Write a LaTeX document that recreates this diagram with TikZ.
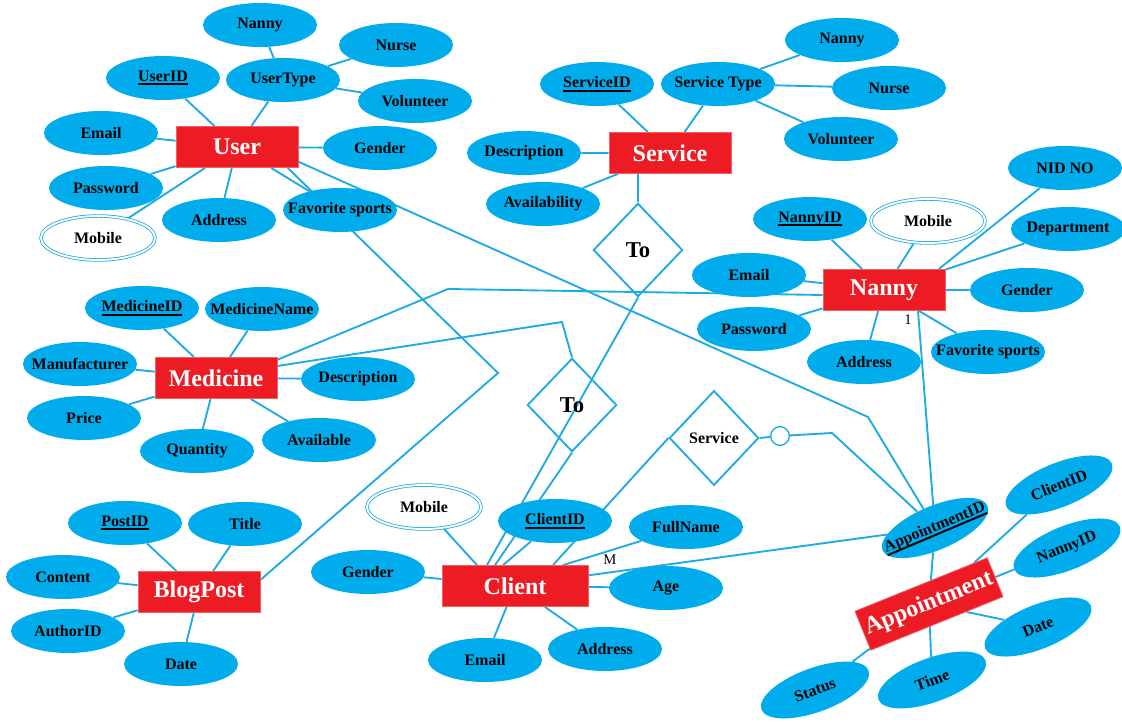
\documentclass[tikz,border=0pt]{standalone}
\usepackage{fontspec}
\setmainfont{Liberation Serif}
\usetikzlibrary{shapes.geometric,backgrounds}
\definecolor{attrblue}{RGB}{0,172,236}
\definecolor{linkblue}{RGB}{30,170,228}
\definecolor{entred}{RGB}{237,28,36}
\newcommand{\pkey}[1]{\setbox0\hbox{#1}\rlap{\rule[-3pt]{\wd0}{1.5pt}}\box0}

\begin{document}
\begin{tikzpicture}[x=0.75pt,y=-0.75pt,
  entity/.style={draw=entred!70!white,line width=0.6pt,fill=entred,text=white,font=\bfseries\fontsize{18}{20}\selectfont,minimum width=91.5pt,minimum height=30.75pt,inner sep=0pt},
  attr/.style={ellipse,fill=attrblue,font=\bfseries\fontsize{12}{14}\selectfont,minimum width=85.5pt,minimum height=33pt,inner xsep=-9pt,inner ysep=0pt},
  multi/.style={attr,fill=white,draw=linkblue,line width=0.6pt,double=white,double distance=1.4pt},
  rel/.style={diamond,draw=linkblue,line width=1.4pt,minimum width=67pt,minimum height=70pt,inner sep=0pt,font=\bfseries\fontsize{17}{19}\selectfont},
  card/.style={font=\fontsize{11}{13}\selectfont,inner sep=1pt},
  link/.style={draw=linkblue,line width=1.4pt}]
\useasboundingbox (0,0) rectangle (1122,723);

\node (user) at (237,147) [entity] {User};
\node (uid) at (163,78) [attr] {\pkey{UserID}};
\node (utype) at (283,80) [attr] {UserType};
\node (utnanny) at (260,25) [attr] {Nanny};
\node (utnurse) at (396,45) [attr] {Nurse};
\node (utvol) at (415,101) [attr] {Volunteer};
\node (uemail) at (101,133) [attr] {Email};
\node (ugender) at (380,148) [attr] {Gender};
\node (upass) at (106,188) [attr] {Password};
\node (uaddr) at (219,220) [attr] {Address};
\node (usport) at (340,210) [attr] {Favorite sports};
\node (umob) at (98,238) [multi] {Mobile};

\node (service) at (670,153) [entity] {Service};
\node (sid) at (597,84) [attr] {\pkey{ServiceID}};
\node (stype) at (718,84) [attr] {Service Type};
\node (stnanny) at (842,40) [attr] {Nanny};
\node (stnurse) at (889,88) [attr] {Nurse};
\node (stvol) at (841,139) [attr] {Volunteer};
\node (sdesc) at (524,153) [attr] {Description};
\node (savail) at (543,204) [attr] {Availability};

\node (nanny) at (884,290) [entity] {Nanny};
\node (nid) at (810,219) [attr] {\pkey{NannyID}};
\node (nmob) at (928,221) [multi] {Mobile};
\node (nnid) at (1065,168) [attr] {NID NO};
\node (ndept) at (1068,229) [attr] {Department};
\node (nemail) at (749,275) [attr] {Email};
\node (ngender) at (1027,290) [attr] {Gender};
\node (npass) at (754,329) [attr] {Password};
\node (naddr) at (864,362) [attr] {Address};
\node (nsport) at (988,352) [attr] {Favorite sports};

\node (medicine) at (216,378) [entity] {Medicine};
\node (mid) at (142,308) [attr] {\pkey{MedicineID}};
\node (mname) at (262,309) [attr] {MedicineName};
\node (mmanu) at (80,364) [attr] {Manufacturer};
\node (mdesc) at (358,379) [attr] {Description};
\node (mprice) at (84,418) [attr] {Price};
\node (mqty) at (197,451) [attr] {Quantity};
\node (mavail) at (319,440) [attr] {Available};

\node (blog) at (199,592) [entity] {BlogPost};
\node (pid) at (125,523) [attr] {\pkey{PostID}};
\node (ptitle) at (245,524) [attr] {Title};
\node (pcontent) at (63,577) [attr] {Content};
\node (pauthor) at (68,631) [attr] {AuthorID};
\node (pdate) at (181,664) [attr] {Date};

\node (client) at (515,586) [entity,minimum width=109.5pt] {Client};
\node (cmob) at (424,507) [multi] {Mobile};
\node (cid) at (555,521) [attr] {\pkey{ClientID}};
\node (cname) at (686,527) [attr] {FullName};
\node (cgender) at (368,572) [attr] {Gender};
\node (cage) at (666,588) [attr] {Age};
\node (cemail) at (485,660) [attr] {Email};
\node (caddr) at (605,649) [attr] {Address};

\node (appt) at (929,604) [entity,rotate=22,minimum width=107pt,minimum height=31.5pt] {Appointment};
\node (apid) at (935,528) [attr,rotate=23,inner xsep=-11pt] {\pkey{AppointmentID}};
\node (acid) at (1059,485) [attr,rotate=22] {ClientID};
\node (anid) at (1067,548) [attr,rotate=22] {NannyID};
\node (adate) at (1038,627) [attr,rotate=22] {Date};
\node (atime) at (932,680) [attr,rotate=20] {Time};
\node (astatus) at (815,690) [attr,rotate=20] {Status};

\node (to1) at (638,250) [rel] {To};
\node (to2) at (572,405) [rel] {To};
\node (svc) at (714,438) [rel,minimum height=71pt,font=\bfseries\fontsize{12}{14}\selectfont] {Service};
\node (opt) at (780,436) [circle,draw=linkblue,fill=white,line width=1pt,minimum size=14pt,inner sep=0pt] {};
\node (one) at (908,320) [card] {1};
\node (many) at (610,560) [card] {M};

\coordinate (b1) at (498,373);
\coordinate (b2) at (868,417);
\coordinate (b3) at (448,289);
\coordinate (b4) at (562,322);
\coordinate (b5) at (832,433);

\begin{scope}[on background layer]
\begin{scope}[every path/.style=link]
\draw (user)--(uid) (user)--(utype) (user)--(uemail) (user)--(ugender) (user)--(upass) (user)--(uaddr) (user)--(usport) (user)--(umob);
\draw (utype)--(utnanny) (utype)--(utnurse) (utype)--(utvol);
\draw (service)--(sid) (service)--(stype) (service)--(sdesc) (service)--(savail);
\draw (stype)--(stnanny) (stype)--(stnurse) (stype)--(stvol);
\draw (nanny)--(nid) (nanny)--(nmob) ([xshift=-5pt]nanny.north east)--(nnid) (nanny)--(ndept) (nanny)--(nemail) (nanny)--(ngender) (nanny)--(npass) (nanny)--(naddr) (nanny)--(nsport);
\draw (medicine)--(mid) (medicine)--(mname) (medicine)--(mmanu) (medicine)--(mdesc) (medicine)--(mprice) (medicine)--(mqty) (medicine)--(mavail);
\draw (blog)--(pid) (blog)--(ptitle) (blog)--(pcontent) (blog)--(pauthor) (blog)--(pdate);
\draw (client)--(cgender) (client)--(cage) (client)--(cemail) (client)--(caddr);
\draw (cmob)--([xshift=-28.5pt]client.north) (cid)--([xshift=-9pt]client.north) (cname)--([xshift=36pt]client.north);
\draw (appt)--(apid) (appt)--(acid) (appt)--(anid) (appt)--(adate) (appt)--(atime) (appt)--(astatus);

\draw (service.south -| to1.north)--(to1.north);
\draw (to1.south)--([xshift=-21pt]client.north);
\draw ([yshift=-2pt]medicine.north east)--(b3)--([yshift=-3.75pt]nanny.west);
\draw ([yshift=9pt]medicine.east)--(b4)--(to2.north);
\draw (to2.south)--([xshift=-15pt]client.north);
\draw ([xshift=-8pt]user.south east)--(b1)--([yshift=9pt]blog.east);
\draw ([yshift=-11pt]user.east)--(b2)--(apid);
\draw ([xshift=25.5pt]nanny.south)--(apid);
\draw (svc.west)--([xshift=28.5pt]client.north);
\draw (svc.east)--(opt)--(b5)--(apid);
\draw ([yshift=8pt]client.east)--(apid);
\end{scope}
\end{scope}

\end{tikzpicture}
\end{document}
